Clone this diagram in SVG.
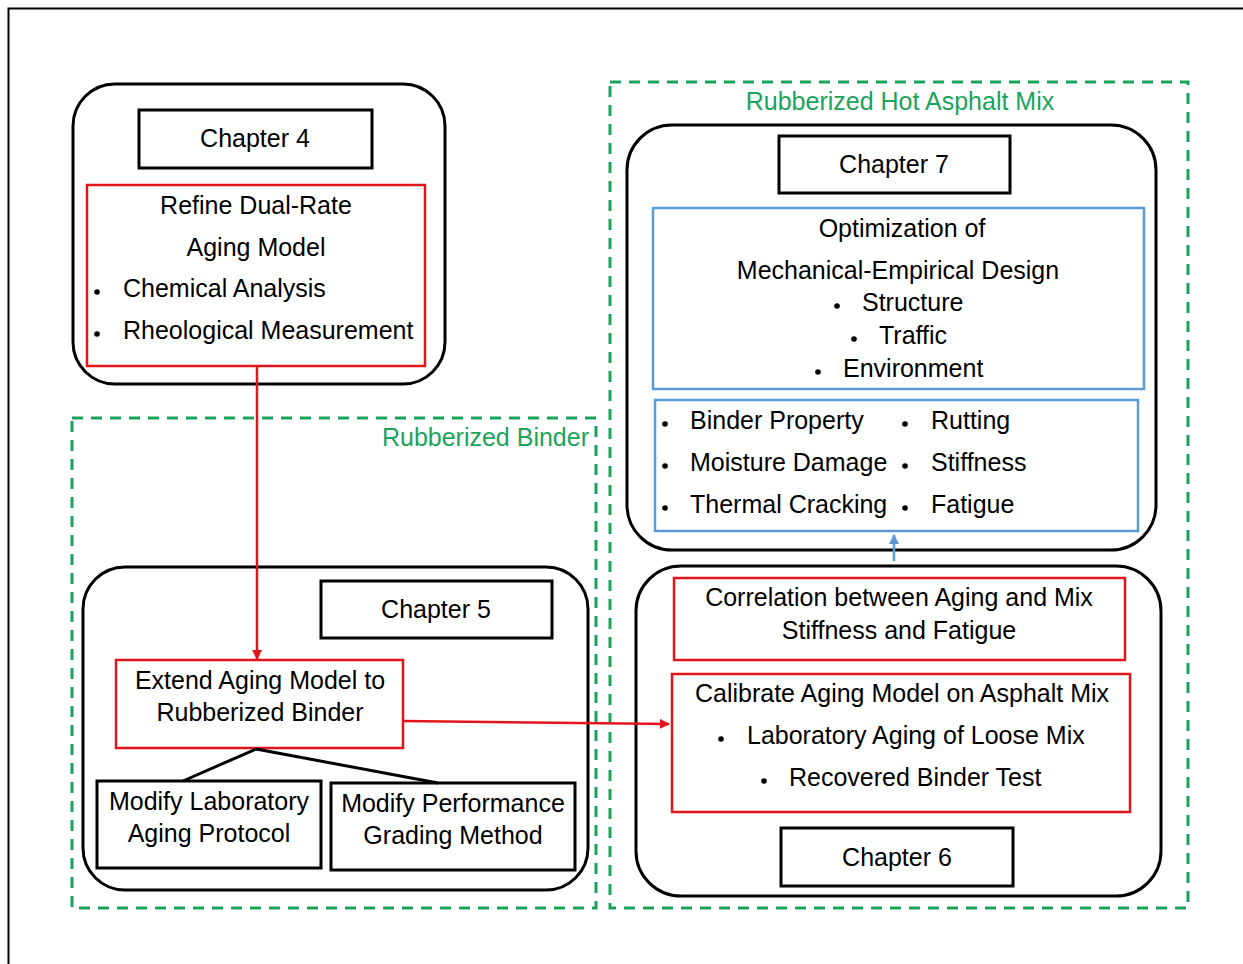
<svg xmlns="http://www.w3.org/2000/svg" width="1243" height="964" viewBox="0 0 1243 964">
<defs>
<style>
text{font-family:"Liberation Sans",Arial,sans-serif;font-size:25px;fill:#000}
.c{text-anchor:middle}
.g{fill:#1aa35a}
.round{fill:none;stroke:#000;stroke-width:3}
.lab{fill:#fff;stroke:#000;stroke-width:3}
.red{fill:none;stroke:#e3151b;stroke-width:2.5}
.blue{fill:none;stroke:#5b9bd5;stroke-width:2.5}
.dash{fill:none;stroke:#1aa35a;stroke-width:3;stroke-dasharray:11 8}
.bul{fill:#000}
</style>
<marker id="ar" viewBox="0 0 10 10" refX="9" refY="5" markerWidth="4" markerHeight="4" orient="auto" markerUnits="strokeWidth"><path d="M0,0 L10,5 L0,10 z" fill="#e3151b"/></marker>
<marker id="ab" viewBox="0 0 10 10" refX="9" refY="5" markerWidth="4" markerHeight="4" orient="auto" markerUnits="strokeWidth"><path d="M0,0 L10,5 L0,10 z" fill="#5b9bd5"/></marker>
</defs>
<rect width="1243" height="964" fill="#fff"/>
<path d="M8.5,964 V8.5 H1243" fill="none" stroke="#000" stroke-width="2"/>

<g id="group-binder">
<rect class="dash" x="72" y="418" width="524" height="490"/>
<text class="g" x="589" y="446" text-anchor="end">Rubberized Binder</text>
</g>
<g id="group-mix">
<rect class="dash" x="610" y="82" width="578" height="826"/>
<text class="g c" x="900" y="110">Rubberized Hot Asphalt Mix</text>
</g>

<g id="chapter4">
<rect class="round" x="73" y="84" width="372" height="300" rx="42"/>
<rect class="lab" x="139" y="110" width="233" height="58"/>
<text class="c" x="255" y="147">Chapter 4</text>
<rect class="red" x="87" y="185" width="338" height="181"/>
<text class="c" x="256" y="214">Refine Dual-Rate</text>
<text class="c" x="256" y="256">Aging Model</text>
<circle class="bul" cx="97" cy="292" r="2.8"/>
<text x="123" y="297">Chemical Analysis</text>
<circle class="bul" cx="97" cy="334" r="2.8"/>
<text x="123" y="339">Rheological Measurement</text>
</g>

<g id="chapter5">
<rect class="round" x="83" y="567" width="505" height="323" rx="42"/>
<rect class="lab" x="321" y="581" width="231" height="57"/>
<text class="c" x="436" y="618">Chapter 5</text>
<rect class="red" x="116" y="660" width="287" height="88"/>
<text class="c" x="260" y="689">Extend Aging Model to</text>
<text class="c" x="260" y="721">Rubberized Binder</text>
<rect class="lab" x="97" y="781" width="224" height="87"/>
<text class="c" x="209" y="810">Modify Laboratory</text>
<text class="c" x="209" y="842">Aging Protocol</text>
<rect class="lab" x="331" y="783" width="244" height="87"/>
<text class="c" x="453" y="812">Modify Performance</text>
<text class="c" x="453" y="844">Grading Method</text>
</g>

<g id="chapter7">
<rect class="round" x="627" y="125" width="529" height="425" rx="45"/>
<rect class="lab" x="779" y="136" width="231" height="57"/>
<text class="c" x="894" y="173">Chapter 7</text>
<rect class="blue" x="653" y="208" width="491" height="181"/>
<text class="c" x="902" y="237">Optimization of</text>
<text class="c" x="898" y="279">Mechanical-Empirical Design</text>
<circle class="bul" cx="837" cy="306" r="2.8"/>
<text x="862" y="311">Structure</text>
<circle class="bul" cx="854" cy="339" r="2.8"/>
<text x="879" y="344">Traffic</text>
<circle class="bul" cx="818" cy="372" r="2.8"/>
<text x="843" y="377">Environment</text>
<rect class="blue" x="655" y="400" width="483" height="131"/>
<circle class="bul" cx="665" cy="424" r="2.8"/>
<text x="690" y="429">Binder Property</text>
<circle class="bul" cx="665" cy="466" r="2.8"/>
<text x="690" y="471">Moisture Damage</text>
<circle class="bul" cx="665" cy="508" r="2.8"/>
<text x="690" y="513">Thermal Cracking</text>
<circle class="bul" cx="905" cy="424" r="2.8"/>
<text x="931" y="429">Rutting</text>
<circle class="bul" cx="905" cy="466" r="2.8"/>
<text x="931" y="471">Stiffness</text>
<circle class="bul" cx="905" cy="508" r="2.8"/>
<text x="931" y="513">Fatigue</text>
</g>

<g id="chapter6">
<rect class="round" x="636" y="566" width="525" height="330" rx="45"/>
<rect class="red" x="674" y="578" width="451" height="82"/>
<text class="c" x="899" y="606">Correlation between Aging and Mix</text>
<text class="c" x="899" y="639">Stiffness and Fatigue</text>
<rect class="red" x="672" y="674" width="458" height="138"/>
<text class="c" x="902" y="702">Calibrate Aging Model on Asphalt Mix</text>
<circle class="bul" cx="721" cy="739" r="2.8"/>
<text x="747" y="744">Laboratory Aging of Loose Mix</text>
<circle class="bul" cx="764" cy="781" r="2.8"/>
<text x="789" y="786">Recovered Binder Test</text>
<rect class="lab" x="781" y="828" width="232" height="58"/>
<text class="c" x="897" y="866">Chapter 6</text>
</g>

<g id="connectors">
<line x1="257" y1="366" x2="257" y2="659" stroke="#e3151b" stroke-width="2.5" marker-end="url(#ar)"/>
<line x1="403" y1="721" x2="669" y2="724" stroke="#e3151b" stroke-width="2.5" marker-end="url(#ar)"/>
<line x1="894" y1="561" x2="894" y2="535" stroke="#5b9bd5" stroke-width="2.5" marker-end="url(#ab)"/>
<line x1="256" y1="749" x2="183" y2="781" stroke="#000" stroke-width="3"/>
<line x1="256" y1="749" x2="438" y2="783" stroke="#000" stroke-width="3"/>
</g>
</svg>
